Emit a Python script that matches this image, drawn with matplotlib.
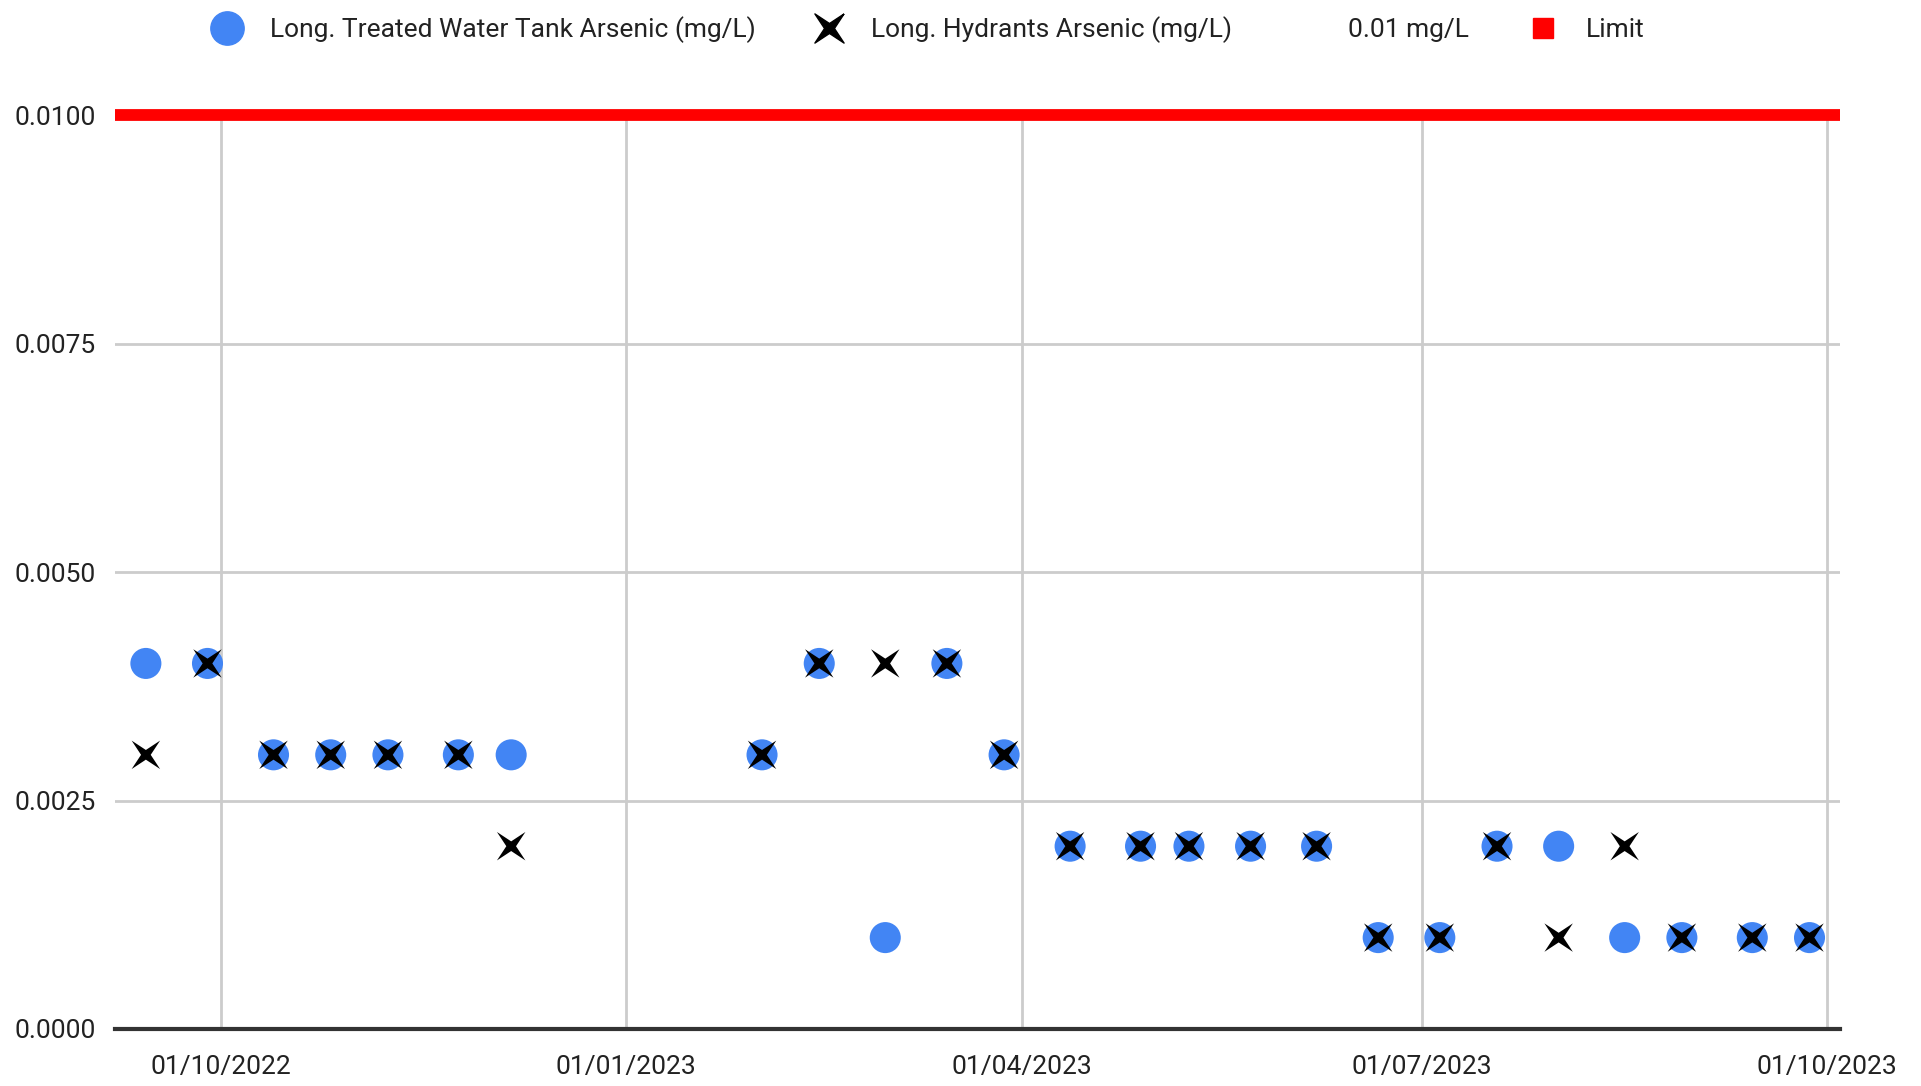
import pandas as pd
import matplotlib
matplotlib.use('Agg')
import matplotlib.pyplot as plt
import matplotlib.dates as mdates
from matplotlib.lines import Line2D
from matplotlib.ticker import FuncFormatter

# Fechas de muestreo y valores de arsénico (mg/L)
fechas = pd.to_datetime([
    '2022-09-14', '2022-09-28', '2022-10-13', '2022-10-26', '2022-11-08',
    '2022-11-24', '2022-12-06', '2023-02-01', '2023-02-14', '2023-03-01',
    '2023-03-15', '2023-03-28', '2023-04-12', '2023-04-28', '2023-05-09',
    '2023-05-23', '2023-06-07', '2023-06-21', '2023-07-05', '2023-07-18',
    '2023-08-01', '2023-08-16', '2023-08-29', '2023-09-14', '2023-09-27'])
tanque = [0.004, 0.004, 0.003, 0.003, 0.003, 0.003, 0.003, 0.003, 0.004, 0.001,
          0.004, 0.003, 0.002, 0.002, 0.002, 0.002, 0.002, 0.001, 0.001, 0.002,
          0.002, 0.001, 0.001, 0.001, 0.001]
hidrantes = [0.003, 0.004, 0.003, 0.003, 0.003, 0.003, 0.002, 0.003, 0.004, 0.004,
             0.004, 0.003, 0.002, 0.002, 0.002, 0.002, 0.002, 0.001, 0.001, 0.002,
             0.001, 0.002, 0.001, 0.001, 0.001]
limite = 0.01
ticks_y = [0.0, 0.0025, 0.005, 0.0075, 0.01]
ticks_x = pd.to_datetime(['2022-10-01', '2023-01-01', '2023-04-01', '2023-07-01', '2023-10-01'])
x_min, x_max = pd.Timestamp('2022-09-07'), pd.Timestamp('2023-10-04')

plt.rcParams['font.family'] = ['Roboto', 'DejaVu Sans']

# Marcador tipo estrella de 4 puntas (la "X" de Google Charts)
r = 0.34
estrella = [(1, 1), (r, 0), (1, -1), (0, -r), (-1, -1), (-r, 0), (-1, 1), (0, r), (1, 1)]

fig = plt.figure(figsize=(19.21, 10.86), dpi=100)
ax = fig.add_axes([0.0599, 0.0525, 0.8981, 0.8415])

ax.axhline(limite, color='#ff0000', linewidth=8.5, zorder=4, clip_on=False, solid_capstyle='butt')
ax.scatter(fechas, tanque, s=500, color='#4285f4', edgecolors='none', zorder=5)
ax.scatter(fechas, hidrantes, s=420, marker=estrella, color='black', edgecolors='none', zorder=6)

ax.set_xlim(x_min, x_max)
ax.set_ylim(0, 0.01)
ax.set_xticks(ticks_x)
ax.xaxis.set_major_formatter(mdates.DateFormatter('%d/%m/%Y'))
ax.set_yticks(ticks_y)
ax.yaxis.set_major_formatter(FuncFormatter(lambda v, p: f'{v:.4f}'))
ax.grid(True, color='#cccccc', linewidth=2)
ax.set_axisbelow(True)
for lado in ['top', 'right', 'left']:
    ax.spines[lado].set_visible(False)
ax.spines['bottom'].set_color('#333333')
ax.spines['bottom'].set_linewidth(3)
ax.spines['bottom'].set_zorder(3)
ax.tick_params(axis='both', length=0, labelsize=19, colors='#222222')
ax.tick_params(axis='x', pad=19)
ax.tick_params(axis='y', pad=14)

# Leyenda
manejadores = [
    Line2D([], [], marker='o', linestyle='none', color='#4285f4', markersize=24),
    Line2D([], [], marker=estrella, linestyle='none', color='black', markersize=21),
    Line2D([], [], linestyle='none'),
    Line2D([], [], marker='s', linestyle='none', color='#ff0000', markersize=14),
]
etiquetas = ['Long. Treated Water Tank Arsenic (mg/L)', 'Long. Hydrants Arsenic (mg/L)',
             '0.01 mg/L', 'Limit']
fig.legend(manejadores, etiquetas, loc='center', bbox_to_anchor=(0.483, 0.973), ncol=4,
           frameon=False, fontsize=19, handlelength=1.2, handletextpad=1.0,
           columnspacing=2.2, labelcolor='#222222')

plt.savefig('out.png', dpi=100)
